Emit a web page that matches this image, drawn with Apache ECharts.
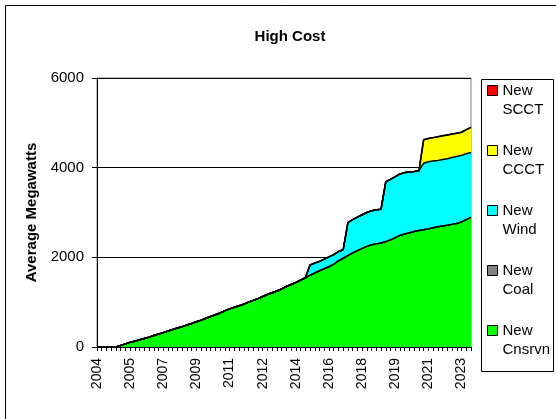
<!DOCTYPE html>
<html>
<head>
<meta charset="utf-8">
<script src="https://cdn.jsdelivr.net/npm/echarts@6/dist/echarts.min.js"></script>
<style>
  html, body { margin: 0; padding: 0; background: #fff; }
  #chart { width: 556px; height: 419px; }
</style>
</head>
<body>
<div id="chart"></div>
<script>
// quarterly categories, labels show the year
var years = [2004, 2005, 2006, 2007, 2008, 2009, 2010, 2011, 2012, 2013,
             2014, 2015, 2016, 2017, 2018, 2019, 2020, 2021, 2022, 2023];
var quarters = ['Q1', 'Q2', 'Q3', 'Q4'];

var yTicks = [0, 2000, 4000, 6000];

// stacked values (average MW)
var cnsrvn = [0, 0, 0, 0, 0, 35, 70, 105, 130, 160, 190, 220, 255, 290, 320, 355, 390, 425, 455, 490,
  525, 565, 600, 640, 680, 720, 760, 805, 850, 885, 920, 955, 1000, 1040, 1080, 1125, 1170, 1210, 1250, 1295,
  1350, 1395, 1440, 1490, 1545, 1600, 1650, 1700, 1745, 1790, 1850, 1920, 1980, 2040, 2100, 2150, 2200, 2245, 2280, 2300,
  2320, 2350, 2390, 2440, 2490, 2520, 2550, 2575, 2600, 2615, 2635, 2660, 2680, 2700, 2715, 2735, 2755, 2790, 2840, 2890];
var coal = [0, 0, 0, 0, 0, 0, 0, 0, 0, 0, 0, 0, 0, 0, 0, 0, 0, 0, 0, 0,
  0, 0, 0, 0, 0, 0, 0, 0, 0, 0, 0, 0, 0, 0, 0, 0, 0, 0, 0, 0,
  0, 0, 0, 0, 0, 0, 0, 0, 0, 0, 0, 0, 0, 0, 0, 0, 0, 0, 0, 0,
  0, 0, 0, 0, 0, 0, 0, 0, 0, 0, 0, 0, 0, 0, 0, 0, 0, 0, 0, 0];
var wind = [0, 0, 0, 0, 0, 0, 0, 0, 0, 0, 0, 0, 0, 0, 0, 0, 0, 0, 0, 0,
  0, 0, 0, 0, 0, 0, 0, 0, 0, 0, 0, 0, 0, 0, 0, 0, 0, 0, 0, 0,
  0, 0, 0, 0, 0, 230, 220, 210, 215, 220, 210, 210, 190, 735, 740, 745, 750, 755, 760, 760,
  755, 1340, 1350, 1360, 1370, 1370, 1355, 1340, 1330, 1485, 1495, 1490, 1480, 1480, 1485, 1490, 1495, 1485, 1470, 1450];
var ccct = [0, 0, 0, 0, 0, 0, 0, 0, 0, 0, 0, 0, 0, 0, 0, 0, 0, 0, 0, 0,
  0, 0, 0, 0, 0, 0, 0, 0, 0, 0, 0, 0, 0, 0, 0, 0, 0, 0, 0, 0,
  0, 0, 0, 0, 0, 0, 0, 0, 0, 0, 0, 0, 0, 0, 0, 0, 0, 0, 0, 0,
  0, 0, 0, 0, 0, 0, 0, 0, 0, 525, 520, 520, 530, 530, 530, 525, 520, 515, 540, 560];
var scct = [0, 0, 0, 0, 0, 0, 0, 0, 0, 0, 0, 0, 0, 0, 0, 0, 0, 0, 0, 0,
  0, 0, 0, 0, 0, 0, 0, 0, 0, 0, 0, 0, 0, 0, 0, 0, 0, 0, 0, 0,
  0, 0, 0, 0, 0, 0, 0, 0, 0, 0, 0, 0, 0, 0, 0, 0, 0, 0, 0, 0,
  0, 0, 0, 0, 0, 0, 0, 0, 0, 0, 0, 0, 0, 0, 0, 0, 0, 0, 0, 0];

var categories = [];
years.forEach(function (y) {
  quarters.forEach(function (q) { categories.push(y + q); });
});

var font = 'Arial, "Liberation Sans", sans-serif';

function areaSeries(name, data, color) {
  return {
    name: name,
    type: 'line',
    stack: 'total',
    data: data,
    symbol: 'none',
    itemStyle: { color: color },
    lineStyle: { color: '#000', width: 1.5 },
    areaStyle: { color: color, opacity: 1 }
  };
}

var chart = echarts.init(document.getElementById('chart'));

var option = {
  animation: false,
  backgroundColor: '#fff',
  title: {
    text: 'High Cost',
    left: 285,
    textAlign: 'center',
    top: 24,
    textStyle: { fontFamily: font, fontSize: 15, fontWeight: 'bold', color: '#000' }
  },
  graphic: [
    { type: 'rect', shape: { x: 5.5, y: 5.5, width: 570, height: 430 },
      style: { fill: 'none', stroke: '#000', lineWidth: 1 }, z: -1 },
    { type: 'rect', shape: { x: 481.5, y: 79.5, width: 72, height: 292 },
      style: { fill: '#fff', stroke: '#000', lineWidth: 1 }, z: -1 }
  ],
  legend: {
    orient: 'vertical',
    left: 487,
    top: 62,
    padding: 0,
    itemGap: 3,
    itemWidth: 10,
    itemHeight: 10,
    itemTextGap: 5,
    icon: 'rect',
    itemStyle: { borderColor: '#000', borderWidth: 1 },
    data: ['New SCCT', 'New CCCT', 'New Wind', 'New Coal', 'New Cnsrvn'],
    formatter: function (n) { return '\n' + n.replace(' ', '\n'); },
    textStyle: { fontFamily: font, fontSize: 15, lineHeight: 19, color: '#000' }
  },
  grid: {
    left: 97, right: 85, top: 78, bottom: 72,
    show: true, borderColor: '#808080', borderWidth: 1, backgroundColor: '#fff'
  },
  xAxis: {
    type: 'category',
    data: categories,
    boundaryGap: false,
    axisLine: { lineStyle: { color: '#000', width: 1 } },
    axisTick: { interval: 0, length: 4, lineStyle: { color: '#000' } },
    axisLabel: {
      interval: 6,
      rotate: 90,
      margin: 11,
      fontFamily: font,
      fontSize: 14,
      color: '#000',
      formatter: function (v) { return v.slice(0, 4); }
    },
    splitLine: { show: false }
  },
  yAxis: {
    type: 'value',
    min: yTicks[0],
    max: yTicks[yTicks.length - 1],
    interval: 2000,
    name: 'Average Megawatts',
    nameLocation: 'middle',
    nameGap: 56,
    nameTextStyle: { fontFamily: font, fontSize: 15, fontWeight: 'bold', color: '#000' },
    axisLine: { show: true, lineStyle: { color: '#000', width: 1 } },
    axisTick: { show: true, length: 5, lineStyle: { color: '#000' } },
    axisLabel: {
      margin: 13, fontFamily: font, fontSize: 15, color: '#000',
      formatter: function (v) { return String(v); }
    },
    splitLine: { show: true, lineStyle: { color: '#000', width: 1 } }
  },
  series: [
    areaSeries('New Cnsrvn', cnsrvn, '#00ff00'),
    areaSeries('New Coal', coal, '#808080'),
    areaSeries('New Wind', wind, '#00ffff'),
    areaSeries('New CCCT', ccct, '#ffff00'),
    areaSeries('New SCCT', scct, '#ff0000')
  ]
};

chart.setOption(option);
</script>
</body>
</html>
